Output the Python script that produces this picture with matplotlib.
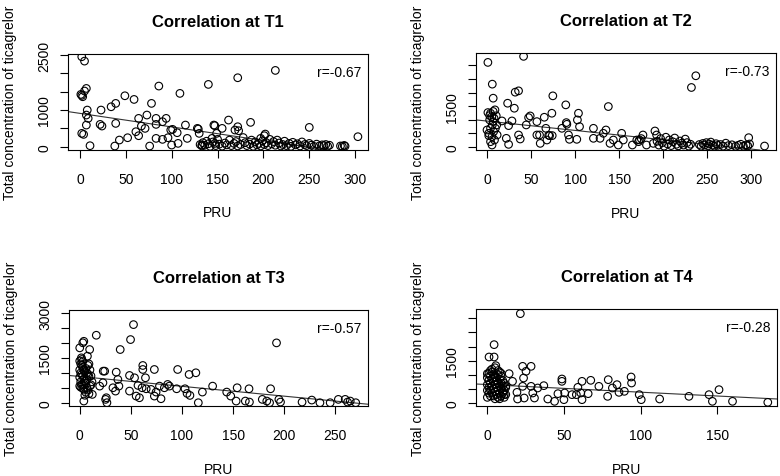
import matplotlib
matplotlib.use("Agg")
import matplotlib.pyplot as plt
import numpy as np

plt.rcParams['font.family'] = ['Liberation Sans', 'DejaVu Sans']

titles = ["Correlation at T1", "Correlation at T2", "Correlation at T3", "Correlation at T4"]
r_labels = ["r=-0.67", "r=-0.73", "r=-0.57", "r=-0.28"]
x_label = "PRU"
y_label = "Total concentration of ticagrelor"

# ---- T1 ----
pru_t1 = [2, 5, 1, 3, 7, 5, 2, 8, 7, 9, 7, 2, 4, 11, 23, 22, 24, 34, 39, 39, 38, 43, 49, 52, 59, 61,
          64, 64, 67, 71, 73, 78, 76, 83, 83, 86, 83, 90, 90, 94, 96, 99, 101, 100, 106, 107, 109, 115,
          117, 128, 130, 133, 140, 144, 146, 149, 147, 155, 162, 169, 172, 172, 186, 197, 201, 213, 250,
          303, 129, 147, 173, 202,
          131, 133, 134, 136, 138, 140, 142, 145, 148, 150, 152, 155, 158, 160, 163, 165, 168, 170, 172,
          175, 178, 180, 182, 185, 187, 189, 191, 193, 195, 197, 199, 201, 203, 205, 207, 209, 211, 213,
          215, 217, 219, 221, 223, 225, 228, 230, 232, 235, 237, 240, 242, 245, 247, 250, 252, 255, 258,
          261, 264, 266, 268, 270, 272, 284, 286, 288, 289]
conc_t1 = [2455, 2336, 1427, 1364, 1590, 1520, 1400, 1000, 864, 773, 590, 364, 336, 27, 1000, 609, 564,
           1090, 1182, 636, 18, 182, 1390, 245, 1290, 409, 773, 300, 564, 500, 864, 1182, 18, 773, 609,
           1655, 227, 682, 200, 773, 245, 455, 473, 45, 382, 91, 1455, 591, 227, 500, 364, 45, 1700, 227,
           591, 364, 91, 500, 727, 455, 1882, 545, 664, 227, 300, 2082, 527, 273, 482, 573, 436, 345,
           60, 20, 110, 40, 150, 80, 10, 130, 30, 200, 70, 15, 100, 50, 180, 30, 90, 140, 20,
           60, 250, 110, 30, 70, 180, 10, 130, 50, 90, 20, 160, 60, 110, 30, 200, 80, 140, 40,
           180, 100, 20, 60, 150, 30, 90, 10, 120, 50, 80, 20, 130, 60, 30, 90, 40, 10, 70,
           20, 50, 30, 60, 15, 40, 20, 10, 35, 15]

# ---- T2 ----
pru_t2 = [1, 41.5, 6, 7, 1, 4, 7, 9, 5.5, 8, 3, 10.5, 7, 4, 0, 2, 7.5, 9.5, 5.7, 4, 5.7, 2, 11, 11.5,
          8.5, 6, 3, 17, 23.4, 31, 32, 35.8, 28.3, 24.5, 21.9, 24.5, 35.8, 37.7, 44.5, 47.2, 49, 56.6,
          56.6, 59.6, 60.4, 65, 66.8, 68, 71, 73.6, 74.7, 70, 74, 85, 89.4, 90, 90.6, 92.5, 93.6, 101.9,
          102.6, 103.8, 105, 120.8, 120.8, 128.3, 132, 135, 137.7, 139.6, 143.4, 149, 152.8, 154.7, 165,
          170, 172, 173, 175, 177, 181, 190.6, 192.5, 188.7,
          193, 195, 197, 199, 201, 203, 205, 207, 209, 211, 213, 215, 217, 219, 221, 223, 225, 227, 229, 231,
          232, 237,
          241, 243, 245, 247, 249, 251, 252, 254, 256, 258, 260, 262, 265, 268, 271, 274, 278, 282, 285,
          288, 291, 294, 296, 298, 297, 315]
conc_t2 = [3112, 3335, 2309, 1791, 1260, 1235, 1300, 1360, 1112, 1050, 988, 1140, 926, 680, 617, 494,
           556, 680, 370, 185, 62, 410, 803, 432, 247, 800, 1150, 951, 1605, 1420, 2013, 2062, 951, 778,
           309, 86, 432, 284, 803, 1074, 1136, 926, 432, 432, 123, 1087, 679, 247, 408, 1235, 1877, 420,
           410, 679, 1544, 889, 827, 432, 272, 272, 988, 1235, 741, 679, 309, 309, 494, 617, 1482, 123,
           247, 62, 494, 247, 62, 247, 185, 250, 300, 432, 62, 580, 432, 123,
           200, 60, 300, 150, 20, 350, 100, 250, 40, 180, 320, 90, 30, 210, 130, 60, 280, 150, 20, 90,
           2186, 2618,
           80, 20, 120, 60, 150, 30, 100, 170, 60, 20, 110, 50, 80, 20, 130, 40, 70, 15, 50,
           90, 20, 60, 30, 100, 333, 25]

# ---- T3 ----
pru_t3 = [52.6, 16.2, 49.7, 39.6, 192.5, 0, 3, 4, 9.7, 7.5, 1.6,
          0, 1, 2, 3, 4, 5, 1, 2, 3, 0, 6, 7, 8, 9, 4, 5, 6, 2, 0, 1, 3, 4, 7, 8, 10, 11, 12, 6, 9, 5,
          3, 8, 10, 11, 2, 1, 7, 4, 0, 9,
          12.3, 4, 24.4, 23, 25.3, 26.6, 26, 19.5, 22.7, 32.5, 35.7, 35, 37.3, 38.3, 48.7, 48.7, 53.6,
          55.2, 58.4, 57, 61.7, 61.7, 64.3, 61, 65, 69.8, 73, 73, 74.7, 78, 79.5, 82.8, 86, 87.7, 95.8,
          94.8, 103, 105, 107, 107.8, 113.6, 116, 120, 130, 143.8, 147.7, 153, 154, 165.6, 162, 166,
          178.6, 183, 186.7, 185.7, 196.4, 194.8, 217.5, 227, 235, 245, 253, 259.7, 262, 264.6, 270]
conc_t3 = [2620, 2263, 2118, 1784, 2007, 1840, 2010, 2060, 1784, 1561, 1505,
           1400, 1300, 1250, 1180, 1100, 1050, 1000, 950, 900, 850, 1150, 1000, 950, 880, 800, 720, 650,
           600, 560, 520, 480, 450, 500, 420, 560, 600, 700, 350, 300, 250,
           1380, 1250, 1100, 900, 1450, 700, 780, 620, 1100, 1300,
           279, 56, 1059, 1059, 112, 0, 167, 557, 669, 502, 1026, 390, 780, 557, 914, 390, 836,
           223, 167, 580, 1249, 1115, 836, 502, 468, 446, 1115, 223, 357, 557, 134, 502, 613, 557, 1115,
           468, 468, 312, 948, 245, 1004, 0, 357, 557, 357, 223, 56, 502, 468, 56, 22,
           112, 56, 468, 0, 22, 112, 22, 89, 0, 0, 112, 112, 22, 56, 0]

# ---- T4 ----
pru_t4 = [21.5, 4.4, 1.1, 4.4, 5.5, 0,
          0, 1, 2, 3, 4, 5, 6, 7, 8, 9, 10, 11, 12,
          0, 1, 2, 3, 4, 5, 6, 7, 8, 9, 10, 11, 12,
          1, 2, 3, 4, 5, 6, 7, 8, 9, 10, 11, 2, 3, 4, 5, 6, 7, 8, 9, 10, 1, 0, 3, 5, 7, 8, 6, 4, 2, 9,
          0, 12, 11,
          14.2, 16.4, 19.3, 19.7, 23, 28.5, 25.2, 23.6, 23, 24, 28.5, 29.6, 30.7, 32.8, 36.8, 39.4, 43.8,
          46, 48.6, 48.6, 50.4, 49.9, 55.2, 58, 59, 60.9, 61.7, 61.7, 65.7, 67.4, 72.7, 78.4, 78.8, 81.5,
          84.5, 85.8, 89.3, 93.7, 94, 99, 100.3, 112.3, 131.4, 144.5, 146.7, 151, 159.8, 182.8]
conc_t4 = [3168, 2069, 1631, 1631, 1324, 1040,
           900, 800, 700, 600, 500, 400, 300, 200, 150, 250, 350, 450, 550,
           650, 550, 450, 350, 250, 150, 900, 1000, 1100, 950, 800, 700, 600,
           1050, 950, 850, 750, 650, 550, 450, 350, 700, 600, 300, 250, 1200, 1000, 900, 800, 700, 600,
           500, 400, 350, 450, 1100, 1250, 1150, 850, 650, 880, 1150, 1050,
           200, 300, 200,
           1040, 768, 378, 142, 1300, 1300, 1123, 886, 591, 177, 591, 355, 177, 532, 615, 142, 59,
           331, 851, 768, 355, 118, 296, 296, 556, 355, 118, 768, 331, 804, 591, 236, 827, 532,
           650, 378, 414, 922, 709, 296, 118, 142, 236, 296, 59, 473, 59, 24]

pru_all = [pru_t1, pru_t2, pru_t3, pru_t4]
conc_all = [conc_t1, conc_t2, conc_t3, conc_t4]

# fitted regression lines (intercept, slope)
line_intercept = [910, 946, 880, 654]
line_slope = [-3.7, -3.45, -3.3, -2.71]

x_ticks = [[0, 50, 100, 150, 200, 250, 300], [0, 50, 100, 150, 200, 250, 300],
           [0, 50, 100, 150, 200, 250], [0, 50, 100, 150]]
y_ticks = [[0, 500, 1000, 1500, 2000, 2500], [0, 500, 1000, 1500, 2000, 2500, 3000],
           [0, 500, 1000, 1500, 2000, 2500, 3000], [0, 500, 1000, 1500, 2000, 2500, 3000]]
y_ticklabels = [["0", "", "1000", "", "", "2500"], ["0", "", "", "1500", "", "", ""],
                ["0", "", "", "1500", "", "", "3000"], ["0", "", "", "1500", "", "", ""]]

x_lims = [(-13, 314), (-12.5, 328), (-10.5, 282), (-7.4, 188.8)]
y_lims = [(-90, 2530), (-122, 3459), (-120, 3120), (-117, 3333)]

W, H = 780, 477
fig = plt.figure(figsize=(W / 100, H / 100), dpi=100)
boxes = [(68, 55, 368, 151), (476, 54, 776, 151), (69, 310.7, 368, 407.3), (476, 310, 777, 407.3)]

for i in range(4):
    l, t, r, b = boxes[i]
    ax = fig.add_axes([l / W, 1 - b / H, (r - l) / W, (b - t) / H])
    ax.scatter(pru_all[i], conc_all[i], s=30, facecolors='none', edgecolors='black',
               linewidths=0.8, zorder=3)
    ax.axline((0, line_intercept[i]), slope=line_slope[i], color='#333333', lw=0.8, zorder=2)
    ax.set_xlim(*x_lims[i])
    ax.set_ylim(*y_lims[i])
    ax.set_xticks(x_ticks[i])
    ax.set_yticks(y_ticks[i])
    ax.set_yticklabels(y_ticklabels[i], rotation=90, va='center')
    ax.tick_params(axis='both', direction='out', length=6, width=0.8, labelsize=10, color='black')
    ax.tick_params(axis='x', pad=9.5)
    ax.tick_params(axis='y', pad=6)
    for sp in ax.spines.values():
        sp.set_linewidth(0.8)
        sp.set_color('black')
    ax.set_title(titles[i], fontsize=12, fontweight='bold', pad=20)
    ax.text(0.977, 0.81, r_labels[i], transform=ax.transAxes, ha='right', va='center', fontsize=10)
    ax.set_xlabel(x_label, fontsize=10, va='center')
    ax.xaxis.set_label_coords(0.5, -0.645)
    ax.set_ylabel(y_label, fontsize=10, va='center')
    ax.yaxis.set_label_coords(-0.194, 0.5)

fig.savefig("out.png", dpi=100)
